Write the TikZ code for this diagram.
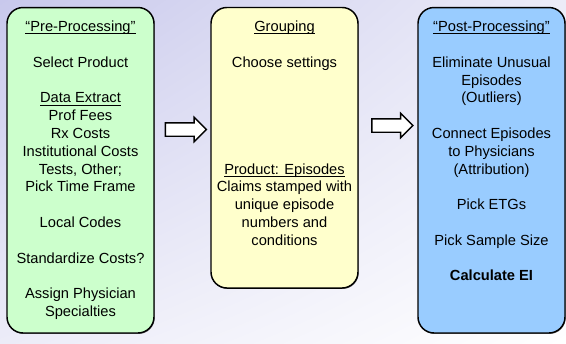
\documentclass[tikz,border=0pt]{standalone}
\usepackage{fontspec}
\setmainfont{Liberation Sans}
\usepackage{tikz}
\usetikzlibrary{positioning}
\usetikzlibrary{shapes.arrows}
\usetikzlibrary{shadows}
\usetikzlibrary{shadings}

\definecolor{bgtop}{RGB}{200,200,236}
\definecolor{bgmid}{RGB}{236,236,248}
\definecolor{pregreen}{RGB}{204,255,204}
\definecolor{groupyellow}{RGB}{255,255,204}
\definecolor{postblue}{RGB}{153,204,255}

\newsavebox{\ulbox}
\newcommand{\stageul}[1]{\sbox{\ulbox}{#1}\rlap{\rule[-2pt]{\wd\ulbox}{0.7pt}}\usebox{\ulbox}}

\begin{document}
\begin{tikzpicture}[x=0.75pt,y=-0.75pt,
  stage/.style={draw=black, line width=1.1pt, rounded corners=12pt, minimum width=110.25pt,
    drop shadow={shadow xshift=0.5pt, shadow yshift=-0.7pt, opacity=0.55, fill=black}},
  stagetext/.style={align=center, inner sep=0pt, font=\fontsize{11}{13.35}\selectfont},
  blockarrow/.style={single arrow, draw=black, line width=1.1pt, fill=white, inner xsep=0pt, inner ysep=4.5pt,
    minimum height=30.75pt, single arrow head extend=4.1pt}]
\useasboundingbox (0,0) rectangle (566,343);
% background
\shade[upper left=bgtop, upper right=bgmid, lower left=bgmid, lower right=white] (0,0) rectangle (566,343);
\coordinate (p) at (80.5,170.25);
\coordinate (g) at (284.5,147.75);
\coordinate (q) at (491.5,170.25);
% draws boxes
\node[stage, fill=pregreen, minimum height=244.1pt] (pre) at (p) {};
\node[stage, fill=groupyellow, minimum height=210.4pt] (group) at (g) {};
\node[stage, fill=postblue, minimum height=244.1pt] (post) at (q) {};
% draws arrows
\node[blockarrow] (arrowa) at (182.5,129.5) {};
\node[blockarrow] (arrowb) at (389,125.5) {};
% box texts
\node[stagetext, below=10.5pt of pre.north] (pretext) {\stageul{“Pre-Processing”}\\[13.35pt]
  Select Product\\[13.35pt]
  \stageul{Data Extract}\\ Prof Fees\\ Rx Costs\\ Institutional Costs\\ Tests, Other;\\ Pick Time Frame\\[13.35pt]
  Local Codes\\[13.35pt]
  Standardize Costs?\\[13.35pt]
  Assign Physician\\ Specialties};
\node[stagetext, below=10.5pt of group.north] (grouptext) {\stageul{Grouping}\\[13.35pt]
  Choose settings\\[66.75pt]
  \stageul{Product: Episodes}\\ Claims stamped with\\ unique episode\\ numbers and\\ conditions};
\node[stagetext, below=10.5pt of post.north] (posttext) {\stageul{“Post-Processing”}\\[13.35pt]
  Eliminate Unusual\\ Episodes\\ (Outliers)\\[13.35pt]
  Connect Episodes\\ to Physicians\\ (Attribution)\\[13.35pt]
  Pick ETGs\\[13.35pt]
  Pick Sample Size\\[13.35pt]
  \textbf{Calculate EI}};
\end{tikzpicture}
\end{document}
